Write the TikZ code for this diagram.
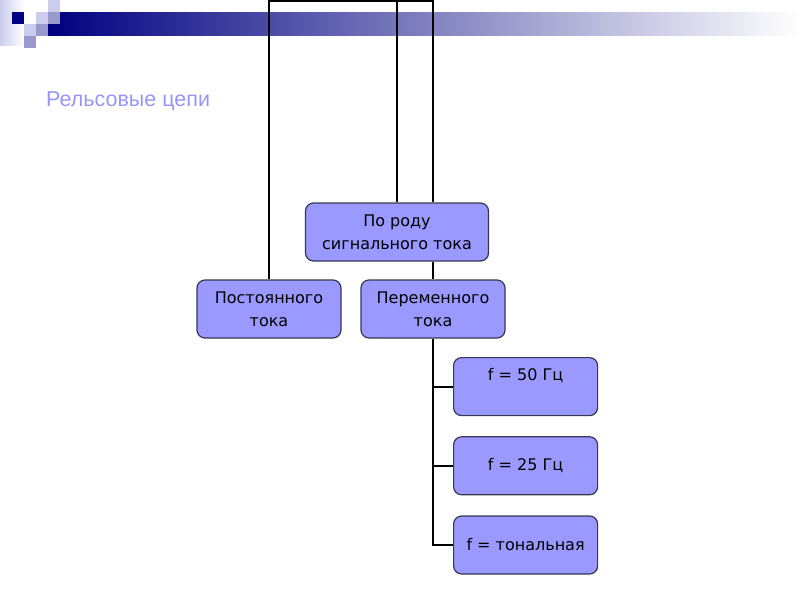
\documentclass[tikz,border=0pt]{standalone}
\usepackage{fontspec}
\setmainfont{DejaVu Sans}
\newfontfamily\titlefont{Liberation Sans}
\usetikzlibrary{positioning}
\definecolor{boxfill}{RGB}{153,153,255}
\definecolor{boxline}{RGB}{55,55,80}
\definecolor{titleblue}{RGB}{150,150,250}
\definecolor{navybar}{RGB}{0,0,128}
\definecolor{lightsq}{RGB}{204,204,238}
\definecolor{midsq}{RGB}{153,153,204}
\tikzset{
  catbox/.style={
    draw=boxline, line width=1.2pt, rounded corners=8pt, fill=boxfill,
    minimum width=144pt, minimum height=58pt, align=center,
    font=\fontsize{16}{23}\selectfont, inner sep=2pt,
  },
  wire/.style={line width=2pt, black},
  slidetitle/.style={font=\titlefont\fontsize{21.5}{24}\selectfont, text=titleblue,
    inner sep=0pt, anchor=base west},
}

\begin{document}
\begin{tikzpicture}[x=1pt, y=-1pt, node distance=20pt]
  \useasboundingbox (0,0) rectangle (800,600);

  % slide header
  \shade[left color=lightsq, right color=white] (0,0) rectangle (24,45);
  \shade[left color=navybar, right color=white] (48,12) rectangle (800,35);
  \fill[navybar] (12,12) rectangle (24,24);
  \fill[lightsq] (48,0) rectangle (60,12);
  \fill[lightsq] (36,12) rectangle (48,24);
  \fill[lightsq] (24,24) rectangle (36,36);
  \fill[midsq] (48,12) rectangle (60,24);
  \fill[midsq] (36,24) rectangle (48,36);
  \fill[midsq] (24,36) rectangle (36,48);
  \node[slidetitle] (title) at (46,106) {Рельсовые цепи};

  \node[catbox, minimum width=183pt] (signal) at (397,232) {По роду\\сигнального тока};
  \node[catbox] (dc) at (269,309) {Постоянного\\тока};
  \node[catbox] (ac) at (433,309) {Переменного\\тока};
  \node[catbox, anchor=north west] (f50) at (453,357) {f = 50 Гц\\[-6pt]\strut};
  \node[catbox, below=of f50] (f25) {f = 25 Гц};
  \node[catbox, below=of f25] (ftone) {f = тональная};

  % connectors from the top edge
  \coordinate (topL) at (269,1);
  \coordinate (topR) at (433,1);
  \draw[wire] (dc.north) -- (dc.north |- topL) -- (topR) -- (topR |- signal.north);
  \draw[wire] (signal.north) -- (signal.north |- topL);
  \draw[wire] (signal.south -| ac.north) -- (ac.north);

  % frequency branches
  \draw[wire] (ac.south) |- (f50.west);
  \draw[wire] (ac.south) |- (f25.west);
  \draw[wire] (ac.south) |- (ftone.west);

\end{tikzpicture}
\end{document}
